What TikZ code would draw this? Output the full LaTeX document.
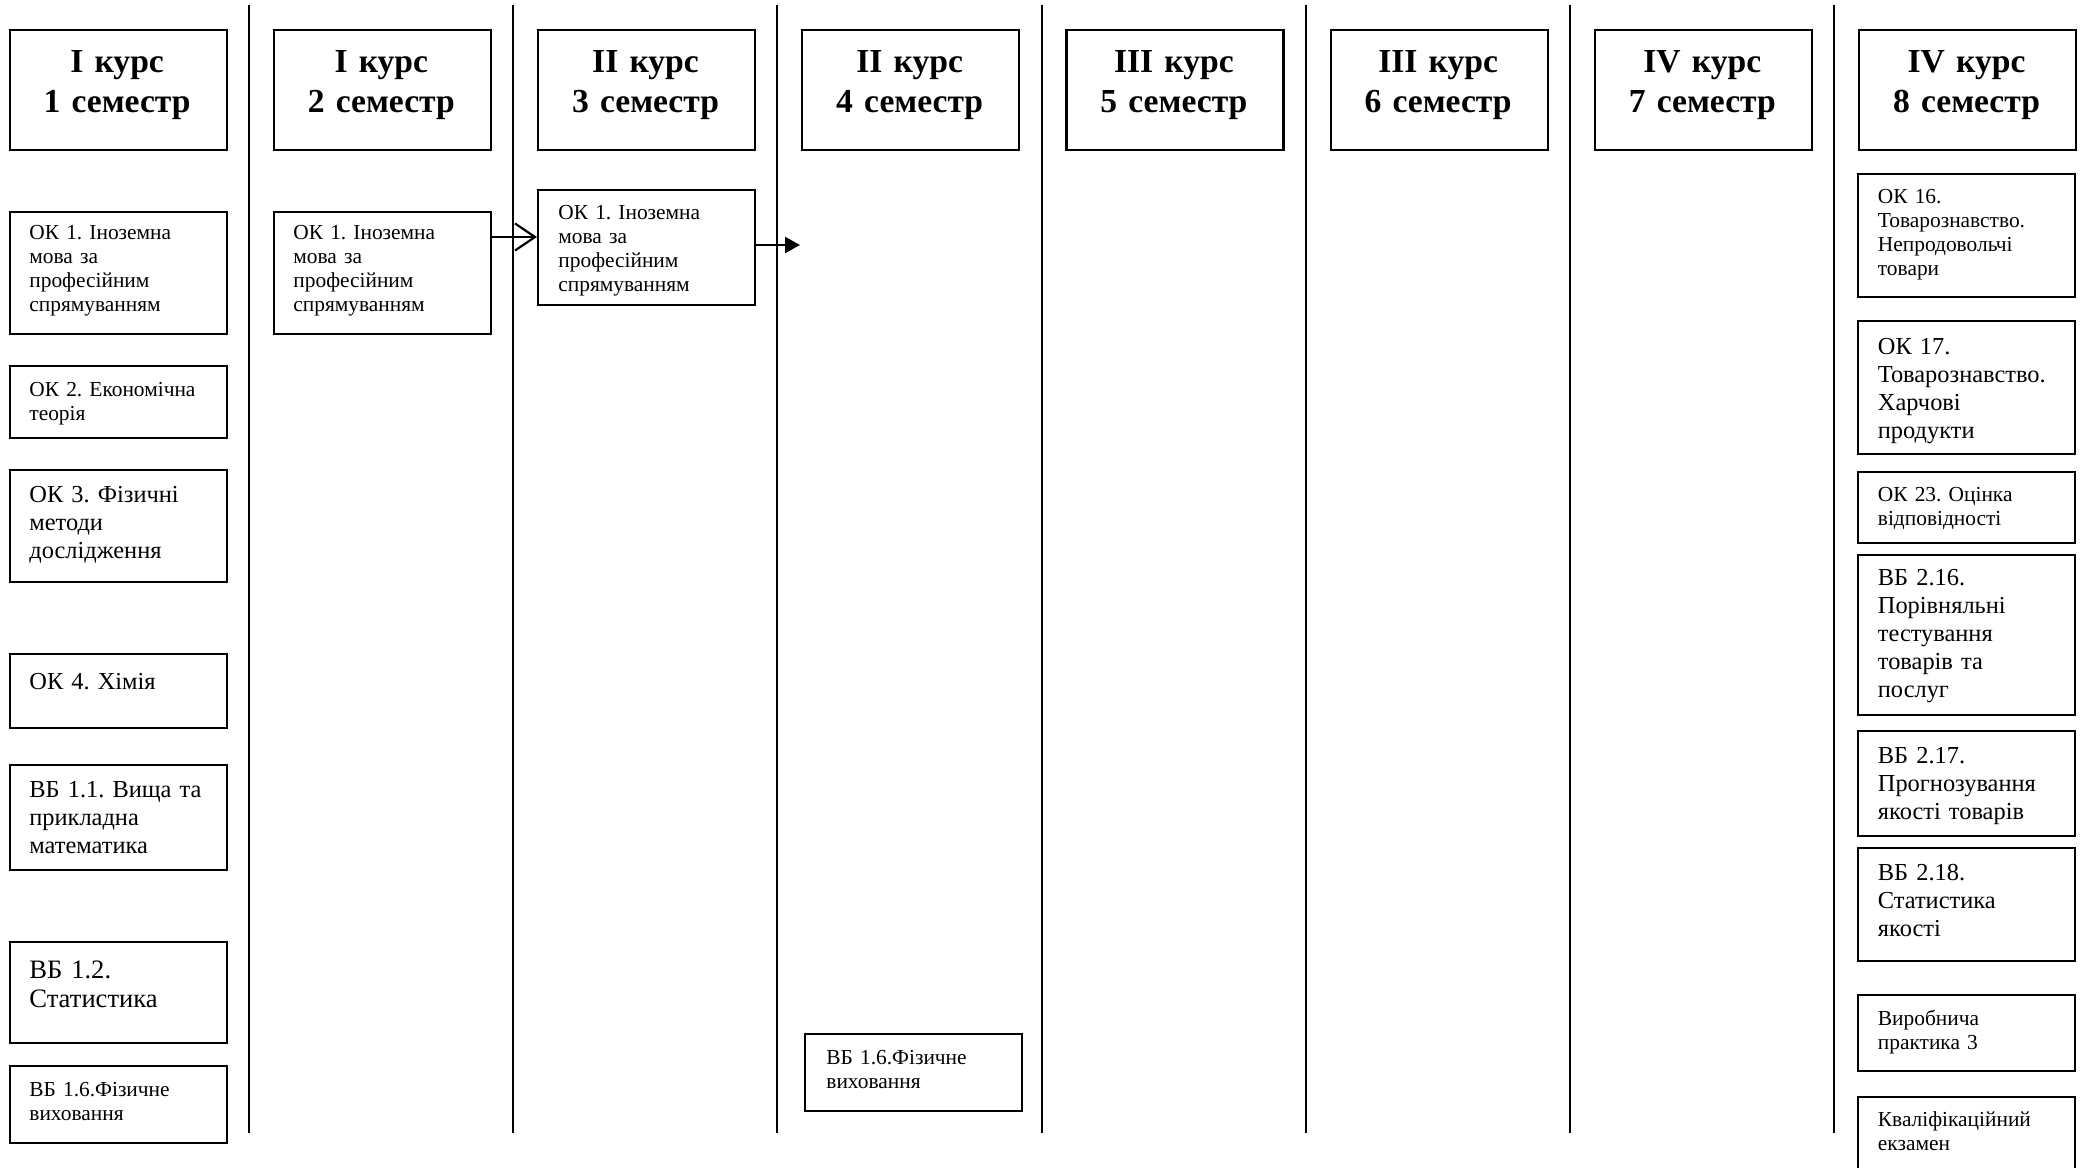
\documentclass[tikz,border=0pt]{standalone}
\usepackage{fontspec}
\setmainfont{Liberation Serif}
\usetikzlibrary{arrows.meta}
\frenchspacing
\begin{document}
\begin{tikzpicture}[x=0.5pt,y=-0.5pt,
  box/.style={draw, line width=1.1pt, inner sep=0pt, anchor=north west, minimum width=108.5pt},
  sepline/.style={line width=1pt},
  txt/.style={anchor=base west, inner sep=0pt, text width=130pt, align=left},
  stxt/.style={txt, font=\fontsize{10.7}{12.15}\selectfont},
  mtxt/.style={txt, font=\fontsize{12.2}{14}\selectfont},
  ltxt/.style={txt, font=\fontsize{13.3}{14.8}\selectfont},
  htxt/.style={anchor=base, inner sep=0pt, text width=108pt, align=center, font=\fontsize{16.8}{20}\selectfont\bfseries},
  openarr/.style={line width=1.1pt, -{Straight Barb[length=10pt,width=13.5pt]}},
  fillarr/.style={line width=1.1pt, -{Triangle[length=7.5pt,width=8pt]}}
]
\frenchspacing
\useasboundingbox (0,0) rectangle (2082,1167);

% separators
\foreach \k in {0,...,6} {
  \coordinate (st\k) at ({249+264.2*\k},5);
  \coordinate (sb\k) at ({249+264.2*\k},1133);
  \draw[sepline] (st\k) -- (sb\k);
}

% headers
\foreach \kk/\rom/\sem in {1/I/1,2/I/2,3/II/3,4/II/4,5/III/5,6/III/6,7/IV/7,8/IV/8} {
  \node[box, minimum height=60pt] (h\sem) at ({8.6+264.2*(\kk-1)},29) {};
  \node[htxt] (ht\sem) at ({117.1+264.2*(\kk-1)},72) {\rom\ курс\\\sem\ семестр};
}

% column 1
\node[box, minimum height=61pt] (ok1a) at (8.6,211) {};
\node[stxt] (tok1a) at (29,239) {ОК 1. Іноземна\\мова за\\професійним\\спрямуванням};
\node[box, minimum height=36pt] (ok2) at (8.6,365) {};
\node[stxt] (tok2) at (29,396) {ОК 2. Економічна\\теорія};
\node[box, minimum height=56pt] (ok3) at (8.6,469) {};
\node[mtxt] (tok3) at (29,502) {ОК 3. Фізичні\\методи\\дослідження};
\node[box, minimum height=37pt] (ok4) at (8.6,653) {};
\node[mtxt] (tok4) at (29,689) {ОК 4. Хімія};
\node[box, minimum height=52.5pt] (vb11) at (8.6,764) {};
\node[mtxt] (tvb11) at (29,797) {ВБ 1.1. Вища та\\прикладна\\математика};
\node[box, minimum height=50.5pt] (vb12) at (8.6,941) {};
\node[ltxt] (tvb12) at (29,978) {ВБ 1.2.\\Статистика};
\node[box, minimum height=38.5pt] (vb16a) at (8.6,1065) {};
\node[stxt] (tvb16a) at (29,1096) {ВБ 1.6.Фізичне\\виховання};

% column 2
\node[box, minimum height=61pt] (ok1b) at (272.8,211) {};
\node[stxt] (tok1b) at (293,239) {ОК 1. Іноземна\\мова за\\професійним\\спрямуванням};

% column 3
\node[box, minimum height=57.5pt] (ok1c) at (537,189) {};
\node[stxt] (tok1c) at (558,219) {ОК 1. Іноземна\\мова за\\професійним\\спрямуванням};

% column 4
\node[box, minimum height=38.5pt] (vb16b) at (804,1033) {};
\node[stxt] (tvb16b) at (826,1064) {ВБ 1.6.Фізичне\\виховання};

% column 8
\node[box, minimum height=61.5pt] (ok16) at (1857,173) {};
\node[stxt] (tok16) at (1877.5,203) {ОК 16.\\Товарознавство.\\Непродовольчі\\товари};
\node[box, minimum height=66.5pt] (ok17) at (1857,320) {};
\node[mtxt] (tok17) at (1877.5,354) {ОК 17.\\Товарознавство.\\Харчові\\продукти};
\node[box, minimum height=35.5pt] (ok23) at (1857,471) {};
\node[stxt] (tok23) at (1877.5,501) {ОК 23. Оцінка\\відповідності};
\node[box, minimum height=80pt] (vb216) at (1857,554) {};
\node[mtxt] (tvb216) at (1877.5,585) {ВБ 2.16.\\Порівняльні\\тестування\\товарів та\\послуг};
\node[box, minimum height=52.5pt] (vb217) at (1857,730) {};
\node[mtxt] (tvb217) at (1877.5,763) {ВБ 2.17.\\Прогнозування\\якості товарів};
\node[box, minimum height=56.5pt] (vb218) at (1857,847) {};
\node[mtxt] (tvb218) at (1877.5,880) {ВБ 2.18.\\Статистика\\якості};
\node[box, minimum height=38pt] (vp3) at (1857,994) {};
\node[stxt] (tvp3) at (1877.5,1025) {Виробнича\\практика 3};
\node[box, minimum height=39.5pt] (kve) at (1857,1096) {};
\node[stxt] (tkve) at (1877.5,1126) {Кваліфікаційний\\екзамен};

% connectors
\coordinate (a1) at (0,237);
\draw[openarr] (ok1b.east |- a1) -- (ok1c.west |- a1);
\coordinate (e1) at (800,245);
\draw[fillarr] (ok1c.east |- e1) -- (e1);
\end{tikzpicture}
\end{document}
